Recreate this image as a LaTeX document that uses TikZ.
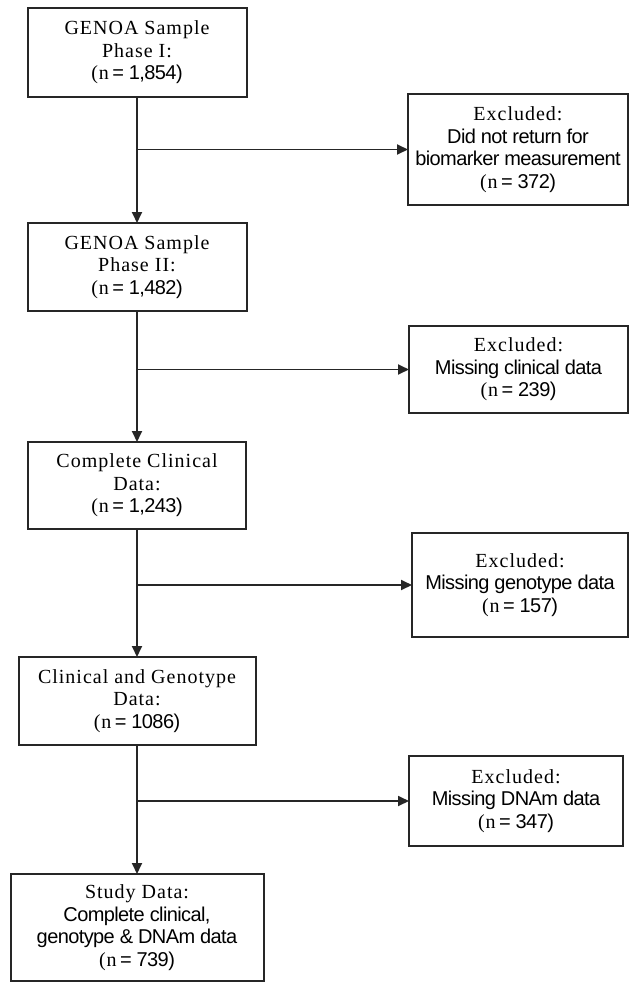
\documentclass[tikz,border=0pt]{standalone}
\usepackage{fontspec}
\setmainfont{Liberation Serif}[LetterSpace=5]
\setsansfont{Liberation Sans}[LetterSpace=-3]
\usetikzlibrary{arrows.meta}

% count line: serif "(n", sans number
\newcommand{\nval}[1]{{\rmfamily(n}\,{\sffamily= #1)}}

\begin{document}
\begin{tikzpicture}[
        x = 1pt, y = -1pt,
        outer sep = 0mm, inner sep = 0mm,
        stage/.style = {
          rectangle, draw = black!85, line width = 2pt, fill = white,
          align = center, font = \fontsize{20}{22.5}\selectfont,
        },
        flow/.style = {
          draw = black!85, line width = 1.8pt,
          -{Triangle[length = 11pt, width = 10pt]},
        }
      ]

      \useasboundingbox (0,0) rectangle (629,982);

      % main column
      \node[stage, minimum width = 219, minimum height = 89] (S1) at (137,52.5)
        {GENOA Sample\\ Phase I:\\ \nval{1,854}};
      \node[stage, minimum width = 219, minimum height = 88] (S2) at (137,267)
        {GENOA Sample\\ Phase II:\\ \nval{1,482}};
      \node[stage, minimum width = 218, minimum height = 87] (S3) at (137,485.5)
        {Complete Clinical\\ Data:\\ \nval{1,243}};
      \node[stage, minimum width = 237, minimum height = 88] (S4) at (137,701)
        {Clinical and Genotype\\ Data:\\ \nval{1086}};
      \node[stage, minimum width = 253, minimum height = 107] (S5) at (137,927.5)
        {Study Data:\\ {\sffamily Complete clinical,}\\
         {\sffamily genotype \& DNAm data}\\ \nval{739}};

      % exclusions
      \node[stage, minimum width = 220, minimum height = 111] (X1) at (518,149.5)
        {Excluded:\\ {\sffamily Did not return for}\\
         {\sffamily biomarker measurement}\\ \nval{372}};
      \node[stage, minimum width = 219, minimum height = 87] (X2) at (518.5,369.5)
        {Excluded:\\ {\sffamily Missing clinical data}\\ \nval{239}};
      \node[stage, minimum width = 216, minimum height = 104] (X3) at (520,585)
        {Excluded:\\ {\sffamily Missing genotype data}\\ \nval{157}};
      \node[stage, minimum width = 214, minimum height = 90] (X4) at (516,801)
        {Excluded:\\ {\sffamily Missing DNAm data}\\ \nval{347}};

      \coordinate (j1) at (S1.south |- X1.west);
      \coordinate (j2) at (S2.south |- X2.west);
      \coordinate (j3) at (S3.south |- X3.west);
      \coordinate (j4) at (S4.south |- X4.west);

      \draw[flow] (S1.south) to (S2.north);
      \draw[flow] (S2.south) to (S3.north);
      \draw[flow] (S3.south) to (S4.north);
      \draw[flow] (S4.south) to (S5.north);

      \draw[flow] (j1) to (X1.west);
      \draw[flow] (j2) to (X2.west);
      \draw[flow] (j3) to (X3.west);
      \draw[flow] (j4) to (X4.west);
    \end{tikzpicture}
\end{document}
